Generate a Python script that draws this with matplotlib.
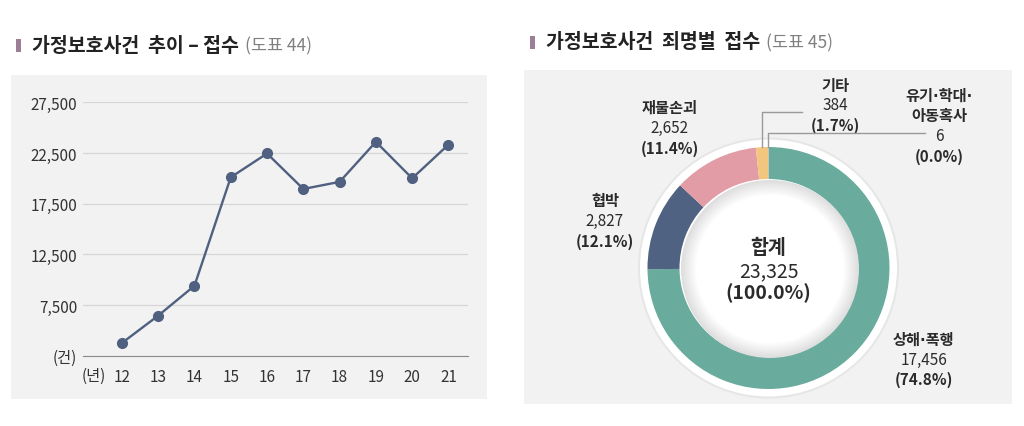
import matplotlib
matplotlib.use("Agg")
import matplotlib.pyplot as plt
from matplotlib.patches import Rectangle, Circle
import numpy as np

plt.rcParams['font.family'] = ['Noto Sans CJK KR', 'DejaVu Sans']

W, H = 1024, 427

# 도표 44 : 가정보호사건 추이 - 접수
years = [12, 13, 14, 15, 16, 17, 18, 19, 20, 21]
cases = [3750, 6450, 9400, 20100, 22450, 18950, 19650, 23600, 20000, 23325]
yticks = [2500, 7500, 12500, 17500, 22500, 27500]
ytick_labels = ['(건)', '7,500', '12,500', '17,500', '22,500', '27,500']

# 도표 45 : 가정보호사건 죄명별 접수
crimes = ['상해·폭행', '협박', '재물손괴', '기타', '유기·학대·\n아동혹사']
counts = [17456, 2827, 2652, 384, 6]
shares = ['(74.8%)', '(12.1%)', '(11.4%)', '(1.7%)', '(0.0%)']
total = 23325
colors = ['#69ab9d', '#506282', '#e29ca5', '#f2c67e', '#c9a0c0']

TXT = '#2b2b2b'
BOX = '#f2f2f2'
NAME_FONT = ['DejaVu Sans', 'Noto Sans CJK KR']  # narrow middle dot, hangul falls back


def P(y):
    # reference pixel rows -> canvas y (origin bottom-left)
    return H - y


fig = plt.figure(figsize=(W / 100, H / 100), dpi=100)
cv = fig.add_axes([0, 0, 1, 1], zorder=0)
cv.set_xlim(0, W); cv.set_ylim(0, H); cv.axis('off')

# gray panels
cv.add_patch(Rectangle((11, P(400)), 476, 324, color=BOX, lw=0))
cv.add_patch(Rectangle((524, P(405)), 488, 334, color=BOX, lw=0))

# titles
fig.canvas.draw()
r = fig.canvas.get_renderer()
for bx, by, main, sub in [(16, 46.5, '가정보호사건  추이 – 접수', '(도표 44)'),
                          (530, 43, '가정보호사건  죄명별  접수', '(도표 45)')]:
    cv.add_patch(Rectangle((bx, P(by + 6.5)), 4.5, 13, color='#9c7f96', lw=0))
    t = cv.text(bx + 16, P(by), main, fontsize=14, fontweight='bold', color='#222222', va='center')
    x1 = t.get_window_extent(r).x1
    cv.text(x1 + 6, P(by), sub, fontsize=12.5, color='#808080', va='center')

# ---- line chart ----
ax = fig.add_axes([82.7 / W, P(356.7) / H, 385 / W, 253.4 / H], zorder=1)
ax.set_facecolor('none')
ax.plot(years, cases, color='#4f6080', lw=1.7, marker='o', ms=7, zorder=3, clip_on=False)
ax.set_xlim(10.92, 21.53)
ax.set_ylim(2500, 27500)
ax.set_yticks(yticks, ytick_labels)
ax.set_xticks(years, [str(y) for y in years])
ax.tick_params(axis='y', length=0, pad=4, labelsize=11, labelcolor='#333333')
ax.tick_params(axis='x', length=0, pad=9, labelsize=11, labelcolor='#333333')
ax.yaxis.grid(True, color='#d6d6d6', lw=0.9)
ax.set_axisbelow(True)
for s in ['top', 'right', 'left']:
    ax.spines[s].set_visible(False)
ax.spines['bottom'].set_color('#8a8a8a')
cv.text(94, P(376.5), '(년)', fontsize=11, color='#333333', ha='center', va='center')

# ---- donut ----
cx, cy, R, ring = 768.5, P(269), 121, 32
cv.add_patch(Circle((cx, cy), 130.5, color='#e6e6e6', lw=0))
cv.add_patch(Circle((cx, cy), 128.5, color='white', lw=0))
cv.pie(counts, colors=colors, startangle=90, counterclock=False, radius=R,
       center=(cx, cy), wedgeprops=dict(width=ring, edgecolor='none'))
rin = R - ring
for i in range(16):
    g = 0.87 + 0.13 * i / 15
    cv.add_patch(Circle((cx + 1.5, cy - 1), rin - i, color=(g, g, g), lw=0, zorder=2))
cv.add_patch(Circle((cx + 1.5, cy - 1), rin - 16, color='white', lw=0, zorder=2))
cv.set_xlim(0, W); cv.set_ylim(0, H); cv.set_aspect('auto'); cv.axis('off')

cv.text(cx, P(248.5), '합계', fontsize=14, fontweight='bold', color=TXT, ha='center', va='center', zorder=4)
cv.text(cx, P(271.5), f'{total:,}', fontsize=14, color=TXT, ha='center', va='center', zorder=4)
cv.text(cx, P(293.5), '(100.0%)', fontsize=14, fontweight='bold', color=TXT, ha='center', va='center', zorder=4)

# slice labels
label_pos = [(923.5, 340), (605, 201.5), (669.5, 108.5), (835, 86), (939.5, 96.5)]
for name, n, sh, (lx, ly) in zip(crimes, counts, shares, label_pos):
    rows = [(s, 'bold', NAME_FONT) for s in name.split('\n')]
    rows += [(f'{n:,}', 'normal', None), (sh, 'bold', None)]
    for k, (s, wgt, fam) in enumerate(rows):
        cv.text(lx, P(ly + k * 20), s, fontsize=11, fontweight=wgt, color=TXT,
                ha='center', va='center', family=fam)

# leader lines for the two thin slices
cum = np.cumsum(counts) / total
mids = cum - np.array(counts) / total / 2
for idx, (ytop, xend) in zip([3, 4], [(113.3, 802), (134.3, 925)]):
    th = 2 * np.pi * mids[idx]
    x0 = cx + R * np.sin(th)
    y0 = cy + R * np.cos(th)
    cv.plot([x0, x0, xend], [y0, P(ytop), P(ytop)], color='#9a9a9a', lw=1, zorder=3)

fig.savefig('out.png', dpi=100)
